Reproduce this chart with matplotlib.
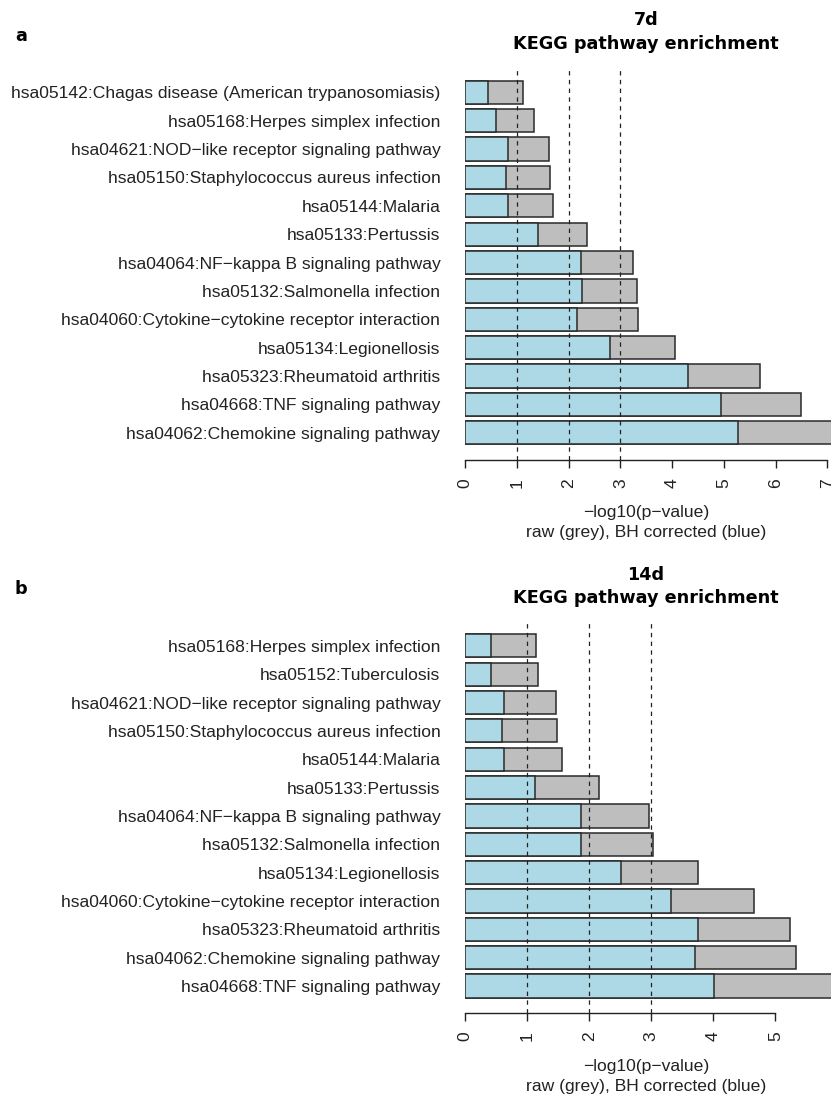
import matplotlib
matplotlib.use("Agg")
import matplotlib.pyplot as plt

# Panel a: 7 days
terms_7d = [
    "hsa05142:Chagas disease (American trypanosomiasis)",
    "hsa05168:Herpes simplex infection",
    "hsa04621:NOD\u2212like receptor signaling pathway",
    "hsa05150:Staphylococcus aureus infection",
    "hsa05144:Malaria",
    "hsa05133:Pertussis",
    "hsa04064:NF\u2212kappa B signaling pathway",
    "hsa05132:Salmonella infection",
    "hsa04060:Cytokine\u2212cytokine receptor interaction",
    "hsa05134:Legionellosis",
    "hsa05323:Rheumatoid arthritis",
    "hsa04668:TNF signaling pathway",
    "hsa04062:Chemokine signaling pathway",
]
raw_7d = [1.11, 1.33, 1.61, 1.63, 1.70, 2.36, 3.25, 3.33, 3.34, 4.06, 5.70, 6.50, 7.20]
bh_7d = [0.43, 0.59, 0.82, 0.79, 0.83, 1.41, 2.23, 2.25, 2.17, 2.79, 4.31, 4.94, 5.27]
ticks_7d = [0, 1, 2, 3, 4, 5, 6, 7]

# Panel b: 14 days
terms_14d = [
    "hsa05168:Herpes simplex infection",
    "hsa05152:Tuberculosis",
    "hsa04621:NOD\u2212like receptor signaling pathway",
    "hsa05150:Staphylococcus aureus infection",
    "hsa05144:Malaria",
    "hsa05133:Pertussis",
    "hsa04064:NF\u2212kappa B signaling pathway",
    "hsa05132:Salmonella infection",
    "hsa05134:Legionellosis",
    "hsa04060:Cytokine\u2212cytokine receptor interaction",
    "hsa05323:Rheumatoid arthritis",
    "hsa04062:Chemokine signaling pathway",
    "hsa04668:TNF signaling pathway",
]
raw_14d = [1.14, 1.18, 1.47, 1.48, 1.56, 2.15, 2.96, 3.03, 3.75, 4.66, 5.23, 5.34, 6.10]
bh_14d = [0.41, 0.41, 0.62, 0.60, 0.63, 1.12, 1.86, 1.87, 2.51, 3.32, 3.76, 3.70, 4.01]
ticks_14d = [0, 1, 2, 3, 4, 5]

thresholds = [1, 2, 3]

W, H = 831, 1100
LABEL_FONT = ["Liberation Sans", "DejaVu Sans"]
BOLD_FONT = ["DejaVu Sans"]
FS = 12.6

fig = plt.figure(figsize=(W / 100, H / 100), dpi=100)


def add_panel(terms, raw, bh, ticks, x0, px_per_unit, top_px, bottom_px, ylim,
              title_day, title_y, letter, letter_y, xlab_y):
    # axes placed in pixel coordinates; right side runs past the figure edge
    xmax = (W + 40 - x0) / px_per_unit
    width_px = xmax * px_per_unit
    ax = fig.add_axes([x0 / W, 1 - bottom_px / H, width_px / W, (bottom_px - top_px) / H])
    ax.set_xlim(0, xmax)
    ax.set_ylim(*ylim)
    n = len(terms)
    ypos = [n - 1 - i for i in range(n)]
    ax.barh(ypos, raw, height=0.82, color="#bebebe", edgecolor="#2a2a2a", linewidth=1.1, zorder=2)
    ax.barh(ypos, bh, height=0.82, color="#add8e6", edgecolor="#2a2a2a", linewidth=1.1, zorder=3)
    for t in thresholds:
        ax.axvline(t, color="#222222", linestyle=(0, (3.5, 3.5)), linewidth=0.9, zorder=4)
    for s in ["top", "right", "left"]:
        ax.spines[s].set_visible(False)
    ax.spines["bottom"].set_bounds(ticks[0], ticks[-1])
    ax.spines["bottom"].set_linewidth(1.0)
    ax.spines["bottom"].set_color("#222222")
    ax.set_xticks(ticks)
    ax.set_xticklabels([str(t) for t in ticks], rotation=90, fontsize=FS,
                       family=LABEL_FONT, color="#222222")
    ax.tick_params(axis="x", length=5.8, width=1.0, color="#222222", pad=7.5)
    ax.set_yticks(ypos)
    ax.set_yticklabels(terms, fontsize=FS, family=LABEL_FONT, color="#222222")
    ax.tick_params(axis="y", length=0, pad=18)

    cx = 646 / W
    fig.text(cx, 1 - title_y[0] / H, title_day, ha="center", va="center",
             fontsize=12.7, fontweight="bold", family=BOLD_FONT)
    fig.text(cx, 1 - title_y[1] / H, "KEGG pathway enrichment", ha="center", va="center",
             fontsize=12.7, fontweight="bold", family=BOLD_FONT)
    fig.text(21 / W, 1 - letter_y / H, letter, ha="center", va="center",
             fontsize=12.7, fontweight="bold", family=BOLD_FONT)
    fig.text(cx, 1 - xlab_y[0] / H, "\u2212log10(p\u2212value)", ha="center", va="center",
             fontsize=FS, family=LABEL_FONT, color="#222222")
    fig.text(cx, 1 - xlab_y[1] / H, "raw (grey), BH corrected (blue)", ha="center", va="center",
             fontsize=FS, family=LABEL_FONT, color="#222222")
    return ax


add_panel(terms_7d, raw_7d, bh_7d, ticks_7d, x0=465.3, px_per_unit=51.7,
          top_px=67.7, bottom_px=459.5, ylim=(-0.94, 12.87),
          title_day="7d", title_y=(20, 44), letter="a", letter_y=36, xlab_y=(513, 532))

add_panel(terms_14d, raw_14d, bh_14d, ticks_14d, x0=465.3, px_per_unit=62.0,
          top_px=621.7, bottom_px=1012.7, ylim=(-0.94, 12.85),
          title_day="14d", title_y=(575, 598), letter="b", letter_y=589, xlab_y=(1067, 1086))

fig.savefig("out.png", dpi=100)
